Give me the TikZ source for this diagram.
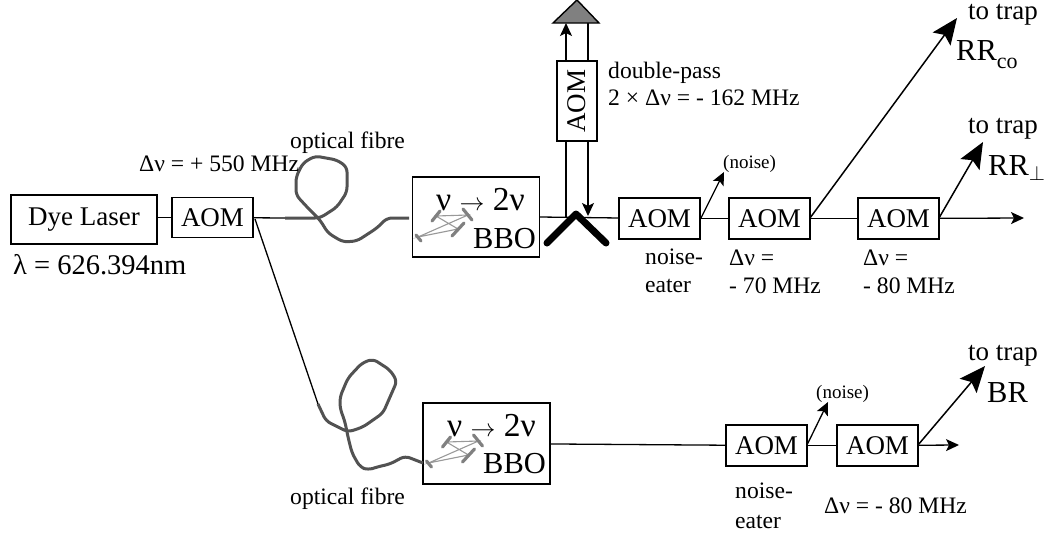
\documentclass[tikz,border=0pt]{standalone}
\usepackage{fontspec}
\setmainfont{Liberation Serif}
\usetikzlibrary{arrows.meta}
\tikzset{
  box/.style={draw, line width=1.4pt, inner sep=0pt, minimum width=#1, font=\fontsize{27}{28}\selectfont},
  box/.default=81pt,
  txt/.style={inner sep=0pt, anchor=base west, align=left, font=\fontsize{23.6}{28}\selectfont},
  big/.style={inner sep=0pt, anchor=base west, font=\fontsize{27}{28}\selectfont},
  huge/.style={inner sep=0pt, anchor=base west, font=\fontsize{30.5}{32}\selectfont},
  tiny/.style={inner sep=0pt, anchor=base west, font=\fontsize{19}{20}\selectfont},
  beam/.style={line width=1.3pt},
  small head/.style={beam, -{Stealth[length=13pt,width=12pt,inset=3pt]}},
  big head/.style={line width=1.5pt, -{Stealth[length=26pt,width=22pt,inset=5pt]}},
  fibre/.style={line width=3pt, draw=black!68, line join=round, rounded corners=5pt},
}
\begin{document}
\begin{tikzpicture}[x=1pt,y=-1pt]
\useasboundingbox (0,0) rectangle (1054,536);
%%%%%%%%%%%%%%%%%%%%%%%%%%%%%%% upper branch
\node[box=146pt, minimum height=49pt](dye) at (84,219.5){Dye Laser};
\node[box, minimum height=40pt](aom0) at (212.5,217.5){AOM};
\node[box=127pt, minimum height=80pt](bbo1) at (476,217){};
\node[box, minimum height=41pt](aom1) at (659.5,218.5){AOM};
\node[box, minimum height=41pt](aom2) at (769.5,218.5){AOM};
\node[box, minimum height=41pt](aom3) at (898.5,218.5){AOM};
\node[box=80pt, rotate=90, minimum height=40pt](aomv) at (577,101){AOM};
\coordinate(fa) at (285,218);
\coordinate(fb) at (409,218);
\coordinate(peak) at (576,214);
\coordinate(ml) at (547,243);
\coordinate(mr) at (606,243);
\coordinate(upl) at (566,23);
\coordinate(upr) at (588,23);
\coordinate(dnl) at (566,218);
\coordinate(dnr) at (588,216);
\coordinate(noiseA) at (701,218);
\coordinate(noiseAend) at (724,172);
\coordinate(co) at (810,218);
\coordinate(coend) at (957,18);
\coordinate(perp) at (939,218);
\coordinate(perpend) at (983,142);
\coordinate(outA) at (1024,218);
\draw[beam] (dye.east |- aom0) -- (aom0);
\draw[beam] (aom0) -- (fa);
\draw[beam] (bbo1.east) -- (aom1);
\draw[beam] (aom1) -- (aom2);
\draw[beam] (aom2) -- (aom3);
\draw[small head] (aom3) -- (outA);
\draw[small head] (noiseA) -- (noiseAend);
\draw[big head] (co) -- (coend);
\draw[big head] (perp) -- (perpend);
\draw[beam] (dnl) -- (aomv.west -| dnl);
\draw[small head] (aomv.east -| upl) -- (upl);
\draw[beam] (aomv.east -| upr) -- (upr);
\draw[small head] (aomv.west -| dnr) -- (dnr);
\draw[line width=1.4pt, fill=black!50] (577,0) -- (599,23) -- (553,23) -- cycle;
\draw[line width=7pt, line cap=round, line join=round] (ml) -- (peak) -- (mr);
\draw[fibre] (fa) -- (320,218) -- (337,207) -- (347,192) -- (347,167) -- (337,160) -- (315,156) -- (303,163) -- (296,177) -- (296,195) -- (307,207) -- (320,220) -- (328,233) -- (343,242) -- (357,241) -- (377,228) -- (387,218) -- (fb);
%%%%%%%%%%%%%%%%%%%%%%%%%%%%%%% lower branch
\node[box=127pt, minimum height=81pt](bbo2) at (486.5,443.5){};
\node[box, minimum height=41pt](aom4) at (766.5,445.5){AOM};
\node[box, minimum height=41pt](aom5) at (877.5,445.5){AOM};
\coordinate(split) at (255,219);
\coordinate(fc) at (318,404);
\coordinate(noiseB) at (807,445);
\coordinate(noiseBend) at (828,402);
\coordinate(br) at (918,445);
\coordinate(brend) at (985,366);
\coordinate(outB) at (959,445);
\draw[beam] (split) -- (fc);
\draw[beam] (bbo2) -- (aom4);
\draw[beam] (aom4) -- (aom5);
\draw[small head] (aom5) -- (outB);
\draw[small head] (noiseB) -- (noiseBend);
\draw[big head] (br) -- (brend);
\draw[fibre] (fc) -- (326,421) -- (348,432) -- (363,427) -- (383,413) -- (397,381) -- (390,370) -- (373,359) -- (362,363) -- (348,378) -- (340,397) -- (340,408) -- (345,422) -- (348,437) -- (352,453) -- (360,467) -- (368,470) -- (377,467) -- (390,464) -- (405,456) -- (423,463);
%%%%%%%%%%%%%%%%%%%%%%%%%%%%%%% cavity inside both boxes
\foreach \dx/\dy in {0/0, 10.5/226}{
  \begin{scope}[shift={(\dx,\dy)}]
    \draw[line width=1.1pt, black!40] (436,216) -- (468,215) -- (418,237) -- (458,229) -- cycle;
    \draw[line width=3.2pt, black!50, line cap=round] (432,221) -- (440,211);
    \draw[line width=3.2pt, black!50, line cap=round] (463,209) -- (472,220);
    \draw[line width=3.2pt, black!50, line cap=round] (452,236) -- (464,223);
    \draw[line width=3.2pt, black!50, line cap=round] (416,235) -- (421,241);
  \end{scope}
}
%%%%%%%%%%%%%%%%%%%%%%%%%%%%%%% labels
\node[huge, font=\fontsize{33.5}{34}\selectfont](nu1) at (436,210){ν $\rightarrow$ 2ν};
\node[huge](bboa) at (473,248){BBO};
\node[huge, font=\fontsize{33.5}{34}\selectfont](nu2) at (447,436){ν $\rightarrow$ 2ν};
\node[huge](bbob) at (483,473){BBO};
\node[txt](shift0) at (139,171){Δν = + 550 MHz};
\node[big, font=\fontsize{28.5}{30}\selectfont](lambda) at (13,274){λ = 626.394nm};
\node[txt](fibrea) at (290,148){optical fibre};
\node[txt](fibreb) at (290,504){optical fibre};
\node[txt](dp1) at (608,78){double-pass};
\node[txt](dp2) at (608,105){2 × Δν = - 162 MHz};
\node[tiny](noise1) at (723,168){(noise)};
\node[tiny](noise2) at (816,398){(noise)};
\node[txt](eater1) at (645,264){noise-};
\node[txt](eater1b) at (645,292){eater};
\node[txt](d70) at (729,265){Δν =};
\node[txt](d70b) at (729,293){- 70 MHz};
\node[txt](d80) at (863,265){Δν =};
\node[txt](d80b) at (863,293){- 80 MHz};
\node[txt](eater2) at (735,498){noise-};
\node[txt](eater2b) at (735,528){eater};
\node[txt](d80c) at (824,513){Δν = - 80 MHz};
\node[big](trap1) at (968,19){to trap};
\node[big](trap2) at (968,133){to trap};
\node[big](trap3) at (968,360){to trap};
\node[huge](rrco) at (956,60){RR\raisebox{-.27em}{\fontsize{22}{22}\selectfont co}};
\node[huge](rrperp) at (988,175){RR$_\perp$};
\node[huge](rbr) at (987,402){BR};
\end{tikzpicture}
\end{document}
